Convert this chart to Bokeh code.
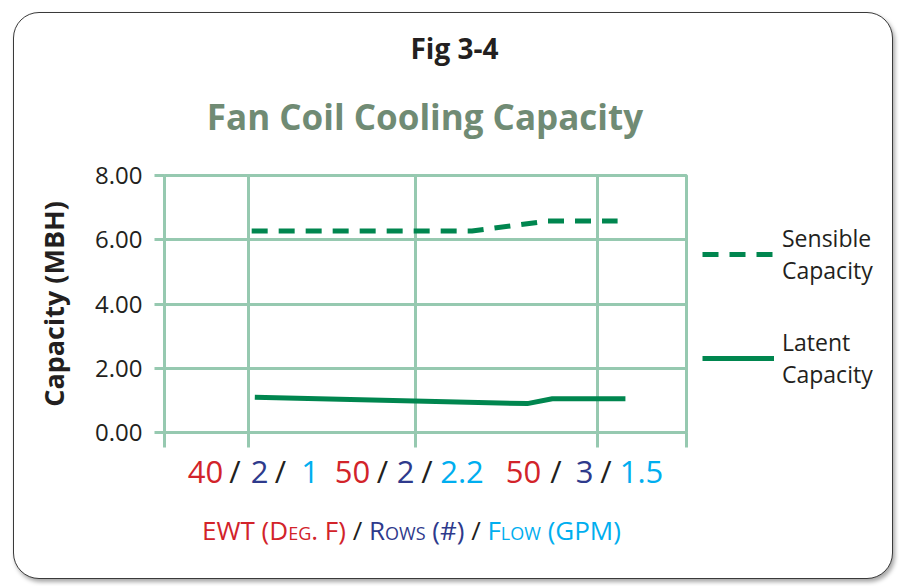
from bokeh.plotting import figure
from bokeh.models import Range1d, FixedTicker, Legend, LegendItem, NumeralTickFormatter, Div
from bokeh.layouts import column, row
from bokeh.embed import file_html
from bokeh.resources import INLINE

# ---------------- data ----------------
cond_ewt = ["40", "50", "50"]          # EWT (Deg. F)
cond_rows = ["2", "2", "3"]            # Rows (#)
cond_flow = ["1", "2.2", "1.5"]        # Flow (GPM)
cond_pos = [16, 48, 83]                # position of each condition along the x axis
x_edges = [0, 100]
y_ticks = [0, 2, 4, 6, 8]

sensible_x = [16.7, 58.9, 73.3, 86.8]
sensible_y = [6.27, 6.27, 6.58, 6.58]
latent_x = [17.3, 69.5, 74.3, 88.3]
latent_y = [1.10, 0.90, 1.05, 1.05]

series_names = ["Sensible\nCapacity", "Latent\nCapacity"]
fig_label = "Fig 3-4"
chart_title = "Fan Coil Cooling Capacity"
y_title = "Capacity (MBH)"

# ---------------- style ----------------
FONT = "Open Sans"
GRID = "#96c9b0"
GREEN = "#00864f"
DARK = "#231f20"
RED = "#d2232a"
BLUE = "#2e3a8c"
CYAN = "#00aeef"
TITLE_C = "#708b74"
SENS_STYLE = dict(line_color=GREEN, line_width=5, line_dash="16 11")
LAT_STYLE = dict(line_color=GREEN, line_width=5)

CW = 878
HEAD_H, FOOT_H = 130, 120
FRAME_W, FRAME_H = 522, 257
B_LEFT, B_RIGHT, B_TOP, B_BOTTOM = 150, 4, 32, 26
CHART_W = B_LEFT + FRAME_W + B_RIGHT
CHART_H = B_TOP + FRAME_H + B_BOTTOM

p = figure(width=CHART_W, height=CHART_H, x_range=Range1d(*x_edges), y_range=Range1d(0, 8),
           output_backend="svg", toolbar_location=None, margin=0,
           min_border_left=B_LEFT, min_border_right=B_RIGHT, min_border_top=B_TOP, min_border_bottom=B_BOTTOM)
p.border_fill_color = None
p.background_fill_color = "white"
p.outline_line_color = GRID
p.outline_line_width = 3

for ax in (p.xaxis, p.yaxis):
    ax.axis_line_color = GRID
    ax.axis_line_width = 3
    ax.major_tick_line_color = GRID
    ax.major_tick_line_width = 3
    ax.major_tick_in = 0
    ax.minor_tick_line_color = None

x_tick_list = [x_edges[0]] + cond_pos + [x_edges[1]]
p.xaxis.ticker = FixedTicker(ticks=x_tick_list)
p.xaxis.major_label_overrides = {float(t): "" for t in x_tick_list}
p.xaxis.major_label_text_font_size = "1px"
p.xaxis.major_tick_out = 15

p.yaxis.ticker = FixedTicker(ticks=y_ticks)
p.yaxis.formatter = NumeralTickFormatter(format="0.00")
p.yaxis.major_tick_out = 10
p.yaxis.major_label_standoff = 12
p.yaxis.major_label_text_font = FONT
p.yaxis.major_label_text_font_size = "24px"
p.yaxis.major_label_text_color = DARK
p.yaxis.axis_label = y_title
p.yaxis.axis_label_text_font = FONT
p.yaxis.axis_label_text_font_size = "27px"
p.yaxis.axis_label_text_font_style = "bold"
p.yaxis.axis_label_text_color = DARK
p.yaxis.axis_label_standoff = 20

p.xgrid.ticker = FixedTicker(ticks=cond_pos + [x_edges[1]])
p.ygrid.ticker = FixedTicker(ticks=y_ticks)
for g in (p.xgrid, p.ygrid):
    g.grid_line_color = GRID
    g.grid_line_width = 3
    g.grid_line_alpha = 1

p.line(sensible_x, sensible_y, **SENS_STYLE)
p.line(latent_x, latent_y, **LAT_STYLE)

# ---------------- legend panel (separate figure to the right) ----------------
# The same series are drawn here outside this panel's visible range, so only the legend shows.
LEG_W = CW - CHART_W
lf = figure(width=LEG_W, height=CHART_H, x_range=Range1d(-2, -1), y_range=Range1d(-2, -1),
            x_axis_type=None, y_axis_type=None, output_backend="svg", toolbar_location=None,
            margin=0, min_border=0)
lf.grid.visible = False
lf.outline_line_color = None
lf.border_fill_color = None
lf.background_fill_color = None
sw_s = lf.line(sensible_x, sensible_y, **SENS_STYLE)
sw_l = lf.line(latent_x, latent_y, **LAT_STYLE)
legend = Legend(items=[LegendItem(label=series_names[0], renderers=[sw_s]),
                       LegendItem(label=series_names[1], renderers=[sw_l])],
                location=(12, 42))
legend.glyph_width = 72
legend.glyph_height = 20
legend.label_standoff = 8
legend.spacing = 40
legend.padding = 0
legend.margin = 0
legend.border_line_color = None
legend.background_fill_alpha = 0
legend.label_text_font = FONT
legend.label_text_font_size = "23px"
legend.label_text_color = DARK
legend.label_text_line_height = 1.15
lf.add_layout(legend)


# ---------------- header / footer text (HTML) ----------------
def txt(inner, cx, baseline, fs, color, bold=False, lh=None):
    lh = fs if lh is None else lh
    top = baseline - lh / 2 - 0.388 * fs
    return (f'<div style="position:absolute;left:{cx}px;top:{top:.1f}px;transform:translateX(-50%);'
            f'white-space:nowrap;font-family:\'{FONT}\';font-size:{fs}px;line-height:{lh}px;'
            f'font-weight:{"700" if bold else "400"};color:{color};">{inner}</div>')


def box(content, h):
    return f'<div style="position:relative;width:{CW}px;height:{h}px;">{content}</div>'


header_html = (txt(fig_label, 440.5, 45.8, 28, DARK, bold=True)
               + txt(chart_title, 411, 117, 35, TITLE_C, bold=True))

# per-condition component centres (x, relative to content origin)
label_layout = [
    (191.5, 221, 245.5, 266.5, 296),
    (338.5, 368.5, 391.5, 413, 448),
    (509.5, 542, 570.5, 592, 627.5),
]
foot = ""
for i in range(len(cond_ewt)):
    xs = label_layout[i]
    comps = [(cond_ewt[i], RED), ("/", DARK), (cond_rows[i], BLUE), ("/", DARK), (cond_flow[i], CYAN)]
    for (t, c), x in zip(comps, xs):
        foot += txt(t, x, 24.5, 31, c, lh=24)

sc = "font-variant:small-caps;"
x_title_html = (f'<span style="color:{RED}">EWT (<span style="{sc}">Deg.</span> F)</span>'
                f'<span style="color:{DARK}"> / </span>'
                f'<span style="color:{BLUE}"><span style="{sc}">Rows</span> (#)</span>'
                f'<span style="color:{DARK}"> / </span>'
                f'<span style="color:{CYAN}"><span style="{sc}">Flow</span> (GPM)</span>')
foot += txt(x_title_html, 397.5, 82.5, 26, DARK)

header = Div(text=box(header_html, HEAD_H), width=CW, height=HEAD_H, margin=0)
footer = Div(text=box(foot, FOOT_H), width=CW, height=FOOT_H, margin=0)

layout = column(header, row(p, lf, spacing=0), footer, spacing=0)
layout.styles = {"border": "1.5px solid #3a3a3a", "border-radius": "26px",
                 "box-shadow": "2px 3px 4px rgba(0,0,0,0.35)", "background": "white",
                 "transform": "translate(13px, 12px)"}

open("out.html", "w").write(file_html(layout, INLINE))
